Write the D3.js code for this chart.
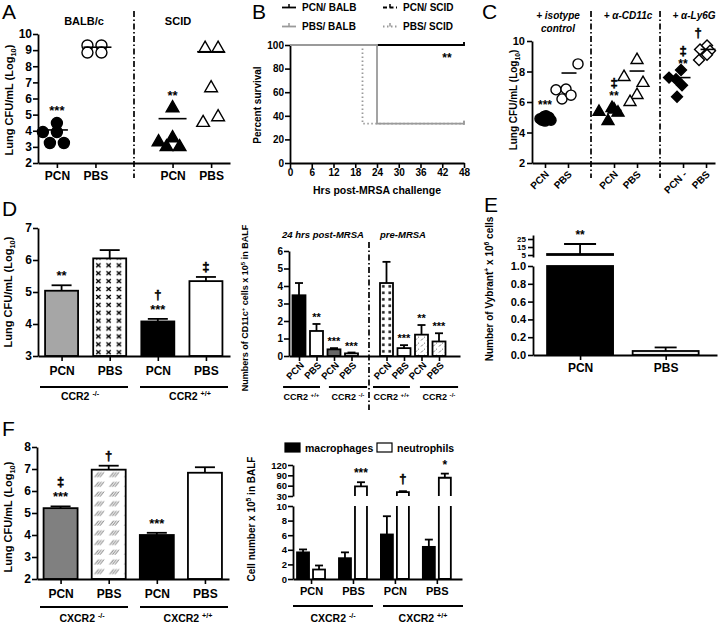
<!DOCTYPE html>
<html><head><meta charset="utf-8">
<script src="https://cdn.jsdelivr.net/npm/d3@7"></script>
<style>body{margin:0;background:#fff}</style>
</head><body>
<script>
// ================= DATA =================
// Panel A
const aCats = ["PCN","PBS","PCN","PBS"];
const aHeaders = ["BALB/c","SCID"];
const aYTicks = [2,3,4,5,6,7,8,9,10];
const aBalbPCN = [3.92,4.48,3.92,3.24,3.24];
const aBalbPBS = [9.29,8.85,9.29,8.85];
const aScidPCN = [3.3,3.0,3.55,3.0,5.41];
const aScidPBS = [9.1,9.1,6.65,4.5,4.85];
const aMeans = [4.05,9.18,4.75,8.9];
const aStars = ["***","","**",""];
const aJit = [[-14,0,0,-7,7],[-8,-8,6,6],[-14,-6,0,7,0],[-6,7,0,-8,7]];

// Panel B
const bLegend = ["PCN/ BALB","PBS/ BALB","PCN/ SCID","PBS/ SCID"];
const bPcnBalb = [[0,100],[48,100]];
const bPbsBalb = [[0,100],[24,100],[24,33.3],[48,33.3]];
const bPcnScid = [[0,100],[48,100]];
const bPbsScid = [[0,100],[20,100],[20,33.3],[48,33.3]];
const bXTicks = [0,6,12,18,24,30,36,42,48];
const bYTicks = [0,20,40,60,80,100];

// Panel C
const cCats = ["PCN","PBS","PCN","PBS","PCN -","PBS"];
const cHeaders = [["+ isotype","control"],["+ α-CD11c"],["+ α-Ly6G"]];
const cYTicks = [2,4,6,8,10];
const cIsoPCN = [4.9,5.05,4.85,4.8,4.75,5.0,4.8,5.1];
const cIsoPBS = [8.5,6.8,6.85,6.2,6.45];
const cCdPCN = [5.35,4.75,5.5,5.3,5.6];
const cCdPBS = [7.64,8.75,7.25,6.46,6.0];
const cLyPCN = [7.6,8.1,7.1,6.34,7.5];
const cLyPBS = [9.45,9.7,9.36,9.1,8.75];
const cMeans = [4.9,7.9,5.45,8.03,7.6,9.45];
const cAnn = [["***"],[],["**","‡"],[],["**","‡"],["†"]];
const cJit = [[-5,-1,3,6,0,4,-3,1],[10,-12,-2,-6,3],[-15,-6,0,4,-2],[-13,0,6,0,-7],[-14,-2,-1,-6,-7],[-6,1,4,1,-7]];

// Panel D (left)
const dCats = ["PCN","PBS","PCN","PBS"];
const dVals = [5.04,6.05,4.08,5.34];
const dErr = [0.17,0.26,0.08,0.13];
const dAnn = [["**"],[],["***","†"],["‡"]];
const dGroups = [["CCR2 ","-/-"],["CCR2 ","+/+"]];
const dYTicks = [3,4,5,6,7];

// Panel D (right)
const drCats = ["PCN","PBS","PCN","PBS","PCN","PBS","PCN","PBS"];
const drVals = [3.47,1.43,0.38,0.15,4.17,0.45,1.22,0.83];
const drErr = [0.7,0.4,0.07,0.05,1.21,0.17,0.55,0.47];
const drAnn = ["","**","***","***","","***","**","***"];
const drGroups = [["CCR2 ","+/+"],["CCR2 ","-/-"],["CCR2 ","+/+"],["CCR2 ","-/-"]];
const drHeaders = ["24 hrs post-MRSA","pre-MRSA"];
const drYTicks = [0,1,2,3,4,5,6];

// Panel E
const eCats = ["PCN","PBS"];
const eVals = [6.25,0.045];
const eErr = [12.5,0.04];
const eAnn = ["**",""];
const eLowTicks = [0,0.2,0.4,0.6,0.8,1.0];
const eUpTicks = [5,15,25];

// Panel F (left)
const fCats = ["PCN","PBS","PCN","PBS"];
const fVals = [5.22,6.97,4.0,6.83];
const fErr = [0.08,0.18,0.1,0.25];
const fAnn = [["***","‡"],["†"],["***"],[]];
const fGroups = [["CXCR2 ","-/-"],["CXCR2 ","+/+"]];
const fYTicks = [2,3,4,5,6,7,8];

// Panel F (right)
const frCats = ["PCN","PBS","PCN","PBS"];
const frLegend = ["macrophages","neutrophils"];
const frMac = [3.65,2.85,6.1,4.4];
const frMacErr = [0.4,0.8,2.5,1.0];
const frNeu = [1.3,58,41,83];
const frNeuErr = [0.55,12,3,12];
const frAnn = ["","***","†","*"];
const frLowTicks = [0,2,4,6,8,10];
const frUpTicks = [30,60,90,120];
const frGroups = [["CXCR2 ","-/-"],["CXCR2 ","+/+"]];

// ================= HELPERS =================
const FONT = "'Liberation Sans', Arial, Helvetica, sans-serif";
const svg = d3.select("body").append("svg").attr("width",720).attr("height",624).style("display","block");
const defs = svg.append("defs");

function txt(x,y,t,o={}){
  const isDag = (t==="†"||t==="‡");
  const el = svg.append("text").attr("x",x).attr("y",y).text(t)
    .attr("font-family",FONT).attr("font-size",o.fs||12).attr("font-weight",o.fw||"bold")
    .attr("font-style",o.fst||"normal").attr("text-anchor",o.anchor||"middle").attr("fill","#000");
  if(isDag) el.attr("stroke","#000").attr("stroke-width",0.5);
  return el;
}
function letter(x,y,t){ txt(x,y,t,{fs:21,fw:"normal",anchor:"start"}); }
function rich(el,parts,fs){
  let shift=0;
  parts.forEach(([t,k])=>{
    const target = k==="sup" ? -fs*0.38 : k==="sub" ? fs*0.28 : 0;
    el.append("tspan").attr("dy",target-shift).attr("font-size",k==="n"?fs:fs*0.68).text(t);
    shift=target;
  });
}
function vTitle(x,cy,parts,fs){
  const t=svg.append("text").attr("transform",`translate(${x},${cy}) rotate(-90)`)
    .attr("text-anchor","middle").attr("font-family",FONT).attr("font-weight","bold").attr("font-size",fs);
  rich(t,parts,fs);
}
function supLabel(x,y,base,sup,fs){
  const t=svg.append("text").attr("x",x).attr("y",y).attr("text-anchor","middle")
    .attr("font-family",FONT).attr("font-weight","bold").attr("font-size",fs);
  rich(t,[[base,"n"],[sup,"sup"]],fs);
}
function axisStyle(g,fs){
  g.attr("font-family",null).attr("font-size",null);
  g.select(".domain").attr("stroke","#000").attr("stroke-width",1.8);
  g.selectAll(".tick line").attr("stroke","#000").attr("stroke-width",1.6);
  g.selectAll("text").attr("font-family",FONT).attr("font-weight","bold").attr("font-size",fs).attr("fill","#000");
}
function yAxis(scale,x,ticks,fmt,fs,pad){
  const g=svg.append("g").attr("transform",`translate(${x},0)`)
    .call(d3.axisLeft(scale).tickValues(ticks).tickFormat(fmt).tickSize(5).tickSizeOuter(0).tickPadding(pad==null?2:pad));
  axisStyle(g,fs); return g;
}
function xAxis(scale,y,ticks,labels,fs,pad,rot){
  const g=svg.append("g").attr("transform",`translate(0,${y})`)
    .call(d3.axisBottom(scale).tickValues(ticks).tickFormat((d,i)=>labels?labels[i]:d).tickSize(5).tickSizeOuter(0).tickPadding(pad==null?3:pad));
  axisStyle(g,fs);
  if(rot){ g.selectAll(".tick text").attr("text-anchor","end").attr("dy",null).attr("y",0).attr("transform",rot); }
  return g;
}
function hline(x1,x2,y,w,c){ return svg.append("line").attr("x1",x1).attr("x2",x2).attr("y1",y).attr("y2",y).attr("stroke",c||"#000").attr("stroke-width",w||1.8); }
function vline(x,y1,y2,w,c){ return svg.append("line").attr("x1",x).attr("x2",x).attr("y1",y1).attr("y2",y2).attr("stroke",c||"#000").attr("stroke-width",w||1.8); }
function dashV(x,y1,y2){ svg.append("line").attr("x1",x).attr("x2",x).attr("y1",y1).attr("y2",y2).attr("stroke","#000").attr("stroke-width",1.7).attr("stroke-dasharray","6,2.5,1.5,2.5"); }
function scatter(cx,ys,vals,jit,sym,filled,size,rot){
  const gen=d3.symbol().type(sym).size(size);
  svg.append("g").selectAll("path").data(vals).join("path").attr("d",gen)
    .attr("transform",(d,i)=>`translate(${cx+jit[i]},${ys(d)})${rot?" rotate(45)":""}`)
    .attr("fill",filled?"#000":"#fff").attr("stroke","#000").attr("stroke-width",1.4);
}
function errBar(cx,y0,y1,cw){
  vline(cx,y0,y1,1.8); hline(cx-cw/2,cx+cw/2,y1,1.8);
}
function bar(cx,w,yTop,yBase,fill){
  svg.append("rect").attr("x",cx-w/2).attr("y",yTop).attr("width",w).attr("height",yBase-yTop)
    .attr("fill",fill).attr("stroke","#000").attr("stroke-width",1.8);
}
function pat(id,w,h,x,y,draw){
  const p=defs.append("pattern").attr("id",id).attr("patternUnits","userSpaceOnUse")
    .attr("width",w).attr("height",h).attr("x",x).attr("y",y);
  p.append("rect").attr("width",w).attr("height",h).attr("fill","#fff");
  draw(p); return `url(#${id})`;
}

// ================= PANEL A =================
letter(2,19,"A");
const yA=d3.scaleLinear().domain([2,10]).range([163,34]);
const xA=d3.scaleLinear().domain([-0.49,4.49]).range([38,230]);
const aSlots=[0,1,3,4];
yAxis(yA,38,aYTicks,d3.format("d"),12,1);
xAxis(xA,163,aSlots,aCats,12,3);
vTitle(13,100,[["Lung CFU/mL (Log","n"],["10","sub"],[")","n"]],11);
dashV(xA(2),11,178);
txt(84,25,aHeaders[0],{fs:11});
txt(178,25,aHeaders[1],{fs:11});
const aData=[aBalbPCN,aBalbPBS,aScidPCN,aScidPBS];
const aSym=[d3.symbolCircle,d3.symbolCircle,d3.symbolTriangle,d3.symbolTriangle];
const aFill=[true,false,true,false];
const aSize=[95,95,70,70];
const aLineDx=[-3,2,0,0];
aData.forEach((vals,k)=>{
  scatter(xA(aSlots[k]),yA,vals,aJit[k],aSym[k],aFill[k],aSize[k]);
  hline(xA(aSlots[k])+aLineDx[k]-14,xA(aSlots[k])+aLineDx[k]+14,yA(aMeans[k]),1.6);
  if(aStars[k]) txt(xA(aSlots[k]),yA(d3.max(vals))-8,aStars[k],{fs:13});
});

// ================= PANEL B =================
letter(252,19,"B");
const xB=d3.scaleLinear().domain([0,48]).range([290,464]);
const yB=d3.scaleLinear().domain([0,100]).range([163,45]);
yAxis(yB,290,bYTicks,d3.format("d"),10,1);
xAxis(xB,163,bXTicks,null,10,1);
vTitle(261,105,[["Percent survival","n"]],10);
txt(377,194,"Hrs post-MRSA challenge",{fs:10.5});
const lineB=d3.line().x(d=>xB(d[0])).y(d=>yB(d[1]));
const bStyles=[
  {d:bPcnBalb,c:"#000",da:null},
  {d:bPcnScid,c:"#000",da:"4,2.5"},
  {d:bPbsBalb,c:"#9a9a9a",da:null},
  {d:bPbsScid,c:"#9a9a9a",da:"1.5,2.5"}
];
bStyles.forEach(s=>{
  svg.append("path").attr("d",lineB(s.d)).attr("fill","none").attr("stroke",s.c)
    .attr("stroke-width",1.8).attr("stroke-dasharray",s.da);
  const last=s.d[s.d.length-1];
  vline(xB(last[0]),yB(last[1])-3,yB(last[1])+1,1.6,s.c);
});
txt(447,62,"**",{fs:12});
const bLegPos=[[282,7.5,"#000",null],[282,26.5,"#9a9a9a",null],[383,7.5,"#000","4,2.5"],[383,26.5,"#9a9a9a","1.5,2.5"]];
bLegend.forEach((lab,i)=>{
  const [x,y,c,da]=bLegPos[i];
  svg.append("line").attr("x1",x).attr("x2",x+14).attr("y1",y).attr("y2",y).attr("stroke",c).attr("stroke-width",1.8).attr("stroke-dasharray",da);
  vline(x+7,y-3.5,y,1.5,c);
  txt(x+20,y+3.6,lab,{fs:10,anchor:"start"});
});

// ================= PANEL C =================
letter(482,19,"C");
const yC=d3.scaleLinear().domain([2,10]).range([163,41]);
const xC=d3.scaleLinear().domain([-0.565,7.39]).range([532,715]);
const cSlots=[0,1,3,4,6,7];
yAxis(yC,532,cYTicks,d3.format("d"),11,2);
xAxis(xC,163,cSlots,cCats,10,3,"translate(4,12) rotate(-45)");
vTitle(517,100,[["Lung CFU/mL (Log","n"],["10","sub"],[")","n"]],10);
dashV(xC(2),11,178); dashV(xC(5),11,178);
txt(558,19,cHeaders[0][0],{fs:10,fst:"italic"});
txt(558,32,cHeaders[0][1],{fs:10,fst:"italic"});
txt(628,19,cHeaders[1][0],{fs:10,fst:"italic"});
txt(694,19,cHeaders[2][0],{fs:10,fst:"italic"});
const cData=[cIsoPCN,cIsoPBS,cCdPCN,cCdPBS,cLyPCN,cLyPBS];
const cSym=[d3.symbolCircle,d3.symbolCircle,d3.symbolTriangle,d3.symbolTriangle,d3.symbolSquare,d3.symbolSquare];
const cSize=[80,80,62,62,60,60];
const cLineDx=[0,1,0,0,0,2];
cData.forEach((vals,k)=>{
  scatter(xC(cSlots[k]),yC,vals,cJit[k],cSym[k],k%2===0,cSize[k],k>=4);
});
cData.forEach((vals,k)=>{
  const cx=xC(cSlots[k])+cLineDx[k];
  hline(cx-7.5,cx+7.5,yC(cMeans[k]),1.6);
  let y=yC(cMeans[k])-10;
  cAnn[k].forEach((t,i)=>{
    if(t==="†"&&i===0){ txt(xC(cSlots[k])-8,y-2,t,{fs:13}); }
    else { txt(xC(cSlots[k]),y,t,{fs:t==="‡"?13:12}); }
    y-=13;
  });
});

// ================= PANEL D (left) =================
letter(2,216,"D");
const yD=d3.scaleLinear().domain([3,7]).range([356,228]);
const xD=d3.scaleLinear().domain([-0.49,3.5]).range([38,230]);
const dSlots=[0,1,2,3];
const dW=33;
const xPat=pat("xpat",10.3,7.9,xD(1)-dW/2,yD(dVals[1])+3,p=>{
  p.append("path").attr("d","M3,1.9 L7.3,6 M7.3,1.9 L3,6").attr("stroke","#000").attr("stroke-width",1.4);
});
const dFills=["#a6a6a6",xPat,"#000","#fff"];
dVals.forEach((v,i)=>{
  bar(xD(i),dW,yD(v),yD(3),dFills[i]);
  errBar(xD(i),yD(v),yD(v+dErr[i]),20);
  let y=yD(v+dErr[i])-5;
  dAnn[i].forEach((t,j)=>{
    if(j>0) y-=15;
    txt(xD(i),(t==="‡"&&j===0)?y-1:y,t,{fs:13});
  });
});
yAxis(yD,38,dYTicks,d3.format("d"),12,1);
xAxis(xD,356,dSlots,dCats,12,5);
vTitle(12,292,[["Lung CFU/mL (Log","n"],["10","sub"],[")","n"]],11);
hline(40,128,387,1.8); hline(140,228,387,1.8);
supLabel(80,400,dGroups[0][0],dGroups[0][1],10.5);
supLabel(190,400,dGroups[1][0],dGroups[1][1],10.5);

// ================= PANEL D (right) =================
const yDR=d3.scaleLinear().domain([0,6]).range([356,251]);
const xDR=d3.scaleLinear().domain([-0.571,9.2]).range([289,460]);
const drSlots=[0,1,2,3,5,6,7,8];
const drW=13;
const sqPat=pat("sqpat",6.5,6.5,xDR(5)-drW/2,yDR(drVals[4]),p=>{
  p.append("rect").attr("x",2).attr("y",2).attr("width",2.6).attr("height",2.6).attr("fill","#222");
});
const spPat=pat("sppat",6,6,0,0,p=>{
  p.append("path").attr("d","M1,4.5 L3,2.5 M4,1.5 L5,0.8").attr("stroke","#777").attr("stroke-width",1);
});
const drFills=["#000","#fff","#666","#fff",sqPat,"#fff",spPat,spPat];
drVals.forEach((v,i)=>{
  const cx=xDR(drSlots[i]);
  bar(cx,drW,yDR(v),yDR(0),drFills[i]);
  errBar(cx,yDR(v),yDR(v+drErr[i]),8);
  if(drAnn[i]) txt(cx,yDR(v+drErr[i])-3,drAnn[i],{fs:11});
});
yAxis(yDR,289,drYTicks,d3.format("d"),10,1);
xAxis(xDR,356,drSlots,drCats,9.5,3,"translate(5,10) rotate(-45)");
vTitle(248,308,[["Numbers of CD11c","n"],["+","sup"],[" cells x 10","n"],["5","sup"],[" in BALF","n"]],9);
dashV(xDR(4),242,410);
txt(323,238,drHeaders[0],{fs:9.5,fst:"italic"});
txt(403,238,drHeaders[1],{fs:9.5,fst:"italic"});
const drSpans=[[-0.91,1.2],[1.71,3.89],[4.23,6.34],[6.91,9.09]];
drSpans.forEach((s,i)=>{
  hline(xDR(s[0]),xDR(s[1]),387,1.8);
  supLabel((xDR(s[0])+xDR(s[1]))/2,400,drGroups[i][0],drGroups[i][1],9);
});

// ================= PANEL E =================
letter(484,212,"E");
const yEl=d3.scaleLinear().domain([0,1.0]).range([355,266]);
const yEu=d3.scaleLinear().domain([2.5,30]).range([257,235]);
const xE=d3.scaleLinear().domain([-0.55,1.6]).range([533,717]);
const eW=66;
bar(xE(0),eW,yEl(1.0),yEl(0),"#000");
bar(xE(0),eW,yEu(eVals[0]),yEu(5),"#000");
errBar(xE(0),yEu(eVals[0]),yEu(eVals[0]+eErr[0]),32);
txt(xE(0),yEu(eVals[0]+eErr[0])-5,eAnn[0],{fs:12});
bar(xE(1),eW,yEl(eVals[1]),yEl(0),"#ececec");
errBar(xE(1),yEl(eVals[1]),yEl(eVals[1]+eErr[1]),22);
yAxis(yEl,533,eLowTicks,d3.format(".1f"),11,2);
yAxis(yEu,533,eUpTicks,d3.format("d"),8,2);
xAxis(xE,355,[0,1],eCats,12,3);
vTitle(493,289,[["Number of Vybrant","n"],["+","sup"],[" x 10","n"],["6","sup"],[" cells","n"]],10);

// ================= PANEL F (left) =================
letter(2,436,"F");
const yF=d3.scaleLinear().domain([2,8]).range([579,447]);
const xF=d3.scaleLinear().domain([-0.49,3.5]).range([37,229]);
const fW=34;
const hPat=pat("hpat",15,9.7,xF(1)-fW/2,yF(fVals[1]),p=>{
  [0,1,2].forEach(k=>{
    p.append("line").attr("x1",3+k*2.6).attr("y1",7.5).attr("x2",7+k*2.6).attr("y2",2.5)
      .attr("stroke","#444").attr("stroke-width",0.8);
  });
});
const fFills=["#808080",hPat,"#000","#fff"];
fVals.forEach((v,i)=>{
  bar(xF(i),fW,yF(v),yF(2),fFills[i]);
  errBar(xF(i),yF(v),yF(v+fErr[i]),20);
  let y=yF(v+fErr[i])-5;
  fAnn[i].forEach((t,j)=>{
    if(j>0) y-=15;
    txt(xF(i),(t==="†"&&j===0)?y-1:y,t,{fs:13});
  });
});
yAxis(yF,37,fYTicks,d3.format("d"),12,1);
xAxis(xF,579,[0,1,2,3],fCats,12,5);
vTitle(12,517,[["Lung CFU/mL (Log","n"],["10","sub"],[")","n"]],11);
hline(40,128,607,1.8); hline(140,228,607,1.8);
supLabel(82,622,fGroups[0][0],fGroups[0][1],10.5);
supLabel(188,622,fGroups[1][0],fGroups[1][1],10.5);

// ================= PANEL F (right) =================
const xFR=d3.scaleLinear().domain([-0.43,3.6]).range([293,462]);
const yFl=d3.scaleLinear().domain([0,10]).range([579,506]);
const yFu=d3.scaleLinear().domain([30,120]).range([496,465]);
const yFR=v=> v<=10 ? yFl(v) : yFu(v);
const frW=12;
frMac.forEach((v,i)=>{
  const cx=xFR(i)-8;
  bar(cx,frW,yFl(v),yFl(0),"#000");
  errBar(cx,yFl(v),yFl(v+frMacErr[i]),8);
});
frNeu.forEach((v,i)=>{
  const cx=xFR(i)+8, x0=cx-frW/2, x1=cx+frW/2;
  if(v<=10){
    bar(cx,frW,yFl(v),yFl(0),"#fff");
  } else {
    svg.append("rect").attr("x",x0).attr("y",yFl(10)).attr("width",frW).attr("height",yFl(0)-yFl(10)).attr("fill","#fff");
    svg.append("path").attr("d",`M${x0},${yFl(10)}V${yFl(0)}H${x1}V${yFl(10)}`).attr("fill","none").attr("stroke","#000").attr("stroke-width",1.8);
    svg.append("rect").attr("x",x0).attr("y",yFu(v)).attr("width",frW).attr("height",yFu(30)-yFu(v)).attr("fill","#fff");
    svg.append("path").attr("d",`M${x0},${yFu(30)}V${yFu(v)}H${x1}V${yFu(30)}`).attr("fill","none").attr("stroke","#000").attr("stroke-width",1.8);
  }
  errBar(cx,yFR(v),yFR(v+frNeuErr[i]),8);
  if(frAnn[i]) txt(cx,yFR(v+frNeuErr[i])-(frAnn[i]==="†"?8:5),frAnn[i],{fs:frAnn[i]==="†"?13:12});
});
yAxis(yFl,293,frLowTicks,d3.format("d"),9.5,1);
yAxis(yFu,293,frUpTicks,d3.format("d"),9.5,1);
xAxis(xFR,579,[0,1,2,3],frCats,11,3);
vTitle(255,519,[["Cell number x 10","n"],["5","sup"],[" in BALF","n"]],10);
svg.append("rect").attr("x",285).attr("y",443).attr("width",15).attr("height",9).attr("fill","#000").attr("stroke","#000").attr("stroke-width",1.2);
txt(305,452,frLegend[0],{fs:10.5,anchor:"start"});
svg.append("rect").attr("x",377).attr("y",443).attr("width",15).attr("height",9).attr("fill","#fff").attr("stroke","#000").attr("stroke-width",1.2);
txt(397,452,frLegend[1],{fs:10.5,anchor:"start"});
hline(293,373,606,1.8); hline(383,463,606,1.8);
supLabel(333,622,frGroups[0][0],frGroups[0][1],10.5);
supLabel(423,622,frGroups[1][0],frGroups[1][1],10.5);
</script>
</body></html>
